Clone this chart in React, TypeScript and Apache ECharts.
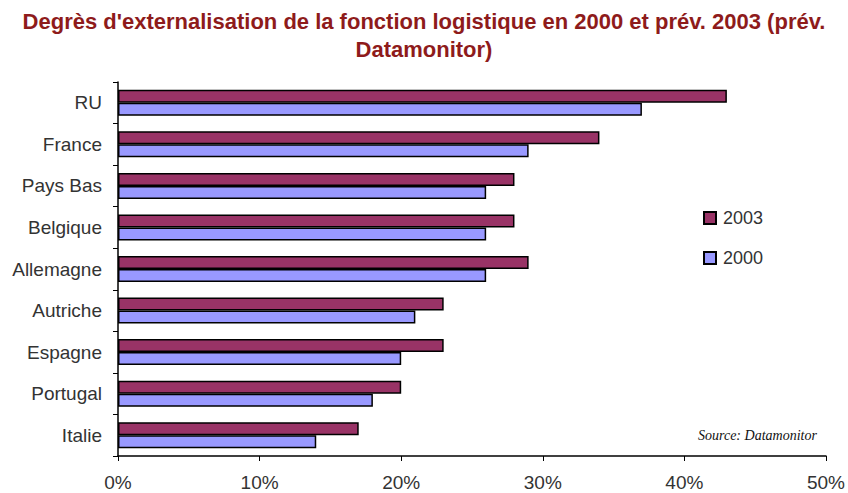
import React, { useEffect, useRef } from "react";
import * as echarts from "echarts";

const categories = ["RU", "France", "Pays Bas", "Belgique", "Allemagne", "Autriche", "Espagne", "Portugal", "Italie"];
const values2003 = [43, 34, 28, 28, 29, 23, 23, 20, 17];
const values2000 = [37, 29, 26, 26, 26, 21, 20, 18, 14];
const xTicks = [0, 10, 20, 30, 40, 50];

const SANS = "Liberation Sans, Arial, sans-serif";

export default function App() {
  const ref = useRef<HTMLDivElement>(null);
  useEffect(() => {
    const chart = echarts.init(ref.current!, null, { renderer: "svg" });
    chart.setOption({
      animation: false,
      backgroundColor: "#ffffff",
      title: {
        text: "Degrès d'externalisation de la fonction logistique en 2000 et prév. 2003 (prév.\nDatamonitor)",
        left: "center",
        top: 7,
        padding: 0,
        textStyle: {
          fontFamily: SANS,
          fontSize: 22,
          fontWeight: "bold",
          color: "#8E1B1B",
          lineHeight: 28,
        },
      },
      legend: {
        orient: "vertical",
        left: 703,
        top: 209,
        padding: 0,
        itemWidth: 12,
        itemHeight: 12,
        itemGap: 22,
        icon: "rect",
        data: ["2003", "2000"],
        textStyle: { fontFamily: SANS, fontSize: 18, color: "#333", padding: [0, 0, 0, 2] },
      },
      grid: { left: 118, right: 22, top: 82, bottom: 37, containLabel: false },
      xAxis: {
        type: "value",
        min: xTicks[0],
        max: xTicks[xTicks.length - 1],
        interval: 10,
        axisLine: { show: true, lineStyle: { color: "#000", width: 1.5 } },
        axisTick: { show: true, length: 5, lineStyle: { color: "#000" } },
        splitLine: { show: false },
        axisLabel: {
          formatter: (v: number) => v + "%",
          fontFamily: SANS,
          fontSize: 19,
          color: "#333",
          margin: 17,
        },
      },
      yAxis: {
        type: "category",
        data: categories,
        inverse: true,
        axisLine: { show: true, lineStyle: { color: "#000", width: 1.5 } },
        axisTick: { show: true, length: 5, alignWithLabel: false, lineStyle: { color: "#000" } },
        axisLabel: {
          fontFamily: SANS,
          fontSize: 19,
          color: "#333",
          margin: 16,
        },
      },
      series: [
        {
          name: "2003",
          type: "bar",
          data: values2003,
          barWidth: 13,
          barGap: "0%",
          itemStyle: { color: "#993366", borderColor: "#000", borderWidth: 1.5 },
        },
        {
          name: "2000",
          type: "bar",
          data: values2000,
          barWidth: 13,
          barGap: "0%",
          itemStyle: { color: "#9999FF", borderColor: "#000", borderWidth: 1.5 },
        },
      ],
      graphic: [
        {
          type: "text",
          left: 698,
          top: 428,
          style: {
            text: "Source: Datamonitor",
            font: "italic 14px 'Liberation Serif', 'Times New Roman', serif",
            fill: "#111",
          },
        },
      ],
    });
    return () => chart.dispose();
  }, []);
  return <div ref={ref} style={{ position: "absolute", left: 0, top: 0, width: 848, height: 493 }} />;
}
